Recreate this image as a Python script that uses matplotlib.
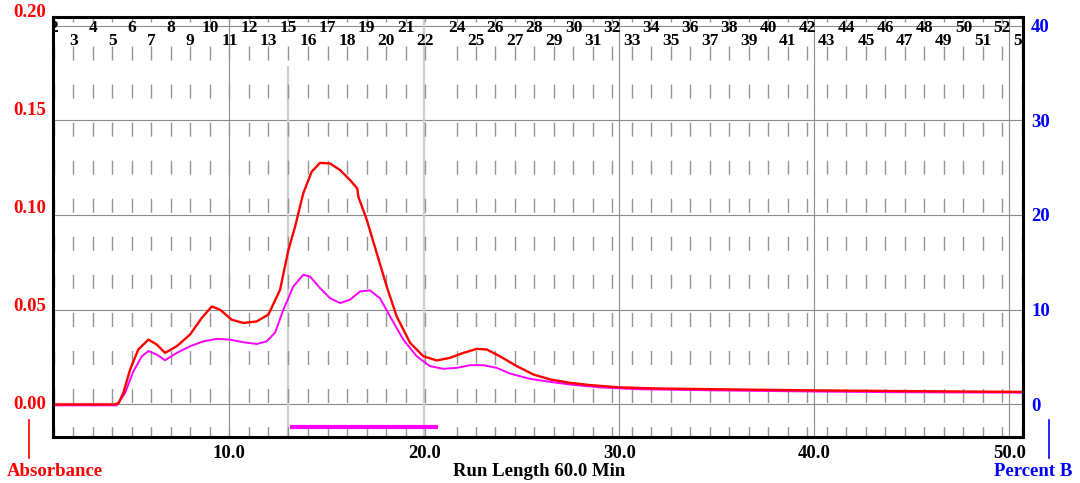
import matplotlib.pyplot as plt
from matplotlib.lines import Line2D
from matplotlib.transforms import blended_transform_factory

# absorbance traces (time in min, absorbance)
red_t = [1.0, 4.05, 4.31, 4.56, 4.91, 5.33, 5.85, 6.28, 6.70, 7.30, 7.98, 8.58,
         9.10, 9.52, 10.12, 10.72, 11.40, 12.00, 12.60, 13.03, 13.37, 13.79,
         14.22, 14.65, 15.16, 15.68, 16.19, 16.56, 16.62, 17.05, 17.56, 18.07,
         18.58, 19.27, 19.95, 20.64, 21.32, 22.00, 22.69, 23.20, 23.88, 24.74,
         25.59, 26.45, 27.47, 28.5, 30.0, 32.0, 35.0, 40.0, 45.0, 50.7]
red_a = [0.0, 0.0, 0.0005, 0.006, 0.0184, 0.029, 0.0342, 0.0316, 0.0272, 0.0307,
         0.0368, 0.0456, 0.0517, 0.0500, 0.0447, 0.0430, 0.0438, 0.0474, 0.0605,
         0.0816, 0.0938, 0.1114, 0.1228, 0.1275, 0.1272, 0.1237, 0.1184, 0.1140,
         0.1095, 0.0974, 0.0798, 0.0623, 0.0465, 0.0325, 0.0254, 0.0232, 0.0246,
         0.0272, 0.0293, 0.0290, 0.0254, 0.0202, 0.0158, 0.0132, 0.0114, 0.0102,
         0.0090, 0.0084, 0.0080, 0.0074, 0.0070, 0.0066]

mag_t = [1.0, 4.22, 4.65, 5.08, 5.51, 5.85, 6.28, 6.70, 7.30, 7.98, 8.67, 9.35,
         10.04, 10.72, 11.40, 11.92, 12.35, 12.77, 13.28, 13.79, 14.14, 14.65,
         15.16, 15.68, 16.19, 16.70, 17.21, 17.72, 18.24, 18.92, 19.61, 20.29,
         20.97, 21.66, 22.34, 23.03, 23.71, 24.39, 25.42, 26.45, 27.47, 29.0,
         31.0, 35.0, 40.0, 45.0, 50.7]
mag_a = [-0.0005, -0.0005, 0.006, 0.0175, 0.0254, 0.0282, 0.0263, 0.0233, 0.0272,
         0.0307, 0.0333, 0.0346, 0.0342, 0.0328, 0.0319, 0.0333, 0.0380, 0.0500,
         0.0623, 0.0684, 0.0675, 0.0614, 0.0561, 0.0535, 0.0553, 0.0596, 0.0602,
         0.0561, 0.0465, 0.0342, 0.0254, 0.0202, 0.0188, 0.0193, 0.0207, 0.0207,
         0.0193, 0.0163, 0.0135, 0.0119, 0.0105, 0.0090, 0.0080, 0.0074, 0.0068,
         0.0064, 0.0062]

# fraction collector marks
frac_labels = [2, 3, 4, 5, 6, 7, 8, 9, 10, 11, 12, 13,
               15, 16, 17, 18, 19, 20, 21, 22,
               24, 25, 26, 27, 28, 29, 30, 31, 32, 33, 34, 35, 36, 37, 38, 39,
               40, 41, 42, 43, 44, 45, 46, 47, 48, 49, 50, 51, 52, 53]
frac_times = [1.0, 2.0, 3.0, 4.0, 5.0, 6.0, 7.0, 8.0, 9.0, 10.0, 11.0, 12.0,
              13.03, 14.04, 15.04, 16.04, 17.04, 18.04, 19.04, 20.04,
              21.65, 22.65, 23.65, 24.65, 25.65, 26.65, 27.65, 28.65, 29.65,
              30.65, 31.65, 32.65, 33.65, 34.65, 35.65, 36.65, 37.65, 38.65,
              39.65, 40.65, 41.65, 42.65, 43.65, 44.65, 45.65, 46.65, 47.65,
              48.65, 49.65, 50.65]
event_times = [13.0, 20.0]
event_tops = [0.88, 1.0]
collect_start, collect_end = 13.1, 20.7

abs_ticks = [0.00, 0.05, 0.10, 0.15, 0.20]
pctb_ticks = [0, 10, 20, 30, 40]
time_ticks = [10.0, 20.0, 30.0, 40.0, 50.0]

plt.rcParams['font.family'] = ['Liberation Serif', 'DejaVu Serif']
plt.rcParams['font.weight'] = 'bold'

W, H = 1080, 483
fig = plt.figure(figsize=(W / 100, H / 100), dpi=100)
left, right, top, bottom = 53.3, 1022.7, 17, 437
ax = fig.add_axes([left / W, 1 - bottom / H, (right - left) / W, (bottom - top) / H])
ax.set_xlim(0.97, 50.69)
ax.set_ylim(-0.0172, 0.2045)

# grid
for v in abs_ticks:
    ax.axhline(v, color='#8c8c8c', lw=0.8, zorder=1)
for t in time_ticks:
    ax.axvline(t, color='#8c8c8c', lw=0.8, zorder=1)

trans = blended_transform_factory(ax.transData, ax.transAxes)
for t, tp in zip(event_times, event_tops):
    ax.plot([t, t], [tp, 0], transform=trans, color='#d0d0d0', lw=1.6, zorder=1)
for t in frac_times:
    ax.plot([t, t], [1, 0], transform=trans, color='#959595', lw=1.0,
            linestyle=(6.5, (10.1, 17.3)), zorder=1)

for i, (n, t) in enumerate(zip(frac_labels, frac_times)):
    yy = 0.973 if i % 2 == 0 else 0.943
    ax.text(t, yy, str(n), transform=trans, ha='center', va='center',
            fontsize=12.5, fontweight='bold', color='black', clip_on=True, zorder=3)

ax.plot(mag_t, mag_a, color='#ff00ff', lw=1.4, zorder=4)
ax.plot(red_t, red_a, color='#ff0000', lw=1.7, zorder=5)
ax.plot([collect_start, collect_end], [-0.0119, -0.0119], color='#ff00ff', lw=3,
        solid_capstyle='butt', zorder=4)

for s in ax.spines.values():
    s.set_linewidth(2.2)
    s.set_color('black')
    s.set_zorder(6)

ax.set_xticks(time_ticks)
ax.set_xticklabels(['%.1f' % t for t in time_ticks])
ax.tick_params(axis='x', length=0, pad=6, labelsize=13.5, labelcolor='black')
ax.set_yticks([])

# left labels sit slightly above their grid lines in the original
for v in abs_ticks:
    ypx = 404.3 - v / 0.05 * 97.9
    fig.text(46 / W, 1 - ypx / H, '%.2f' % v, ha='right', va='center',
             fontsize=13.5, fontweight='bold', color='#ff0000')

ax2 = ax.twinx()
ax2.set_ylim(ax.get_ylim()[0] * 200, ax.get_ylim()[1] * 200)
ax2.set_yticks(pctb_ticks)
ax2.set_yticklabels([str(v) for v in pctb_ticks])
ax2.tick_params(axis='y', length=0, pad=6, labelsize=13.5, labelcolor='#0000ff')
for s in ax2.spines.values():
    s.set_visible(False)

fig.text(55 / W, 1 - 471 / H, 'Absorbance', ha='center', va='center',
         fontsize=13.5, fontweight='bold', color='#ff0000')
fig.text(1033 / W, 1 - 471 / H, 'Percent B', ha='center', va='center',
         fontsize=13.5, fontweight='bold', color='#0000ff')
fig.text(539 / W, 1 - 471 / H, 'Run Length 60.0 Min', ha='center', va='center',
         fontsize=13.5, fontweight='bold', color='black')
fig.lines.append(Line2D([28.7 / W, 28.7 / W], [1 - 420 / H, 1 - 458 / H],
                        transform=fig.transFigure, color='#ff0000', lw=1.2))
fig.lines.append(Line2D([1048.6 / W, 1048.6 / W], [1 - 420 / H, 1 - 458 / H],
                        transform=fig.transFigure, color='#0000ff', lw=1.2))

fig.savefig('out.png', dpi=100)
